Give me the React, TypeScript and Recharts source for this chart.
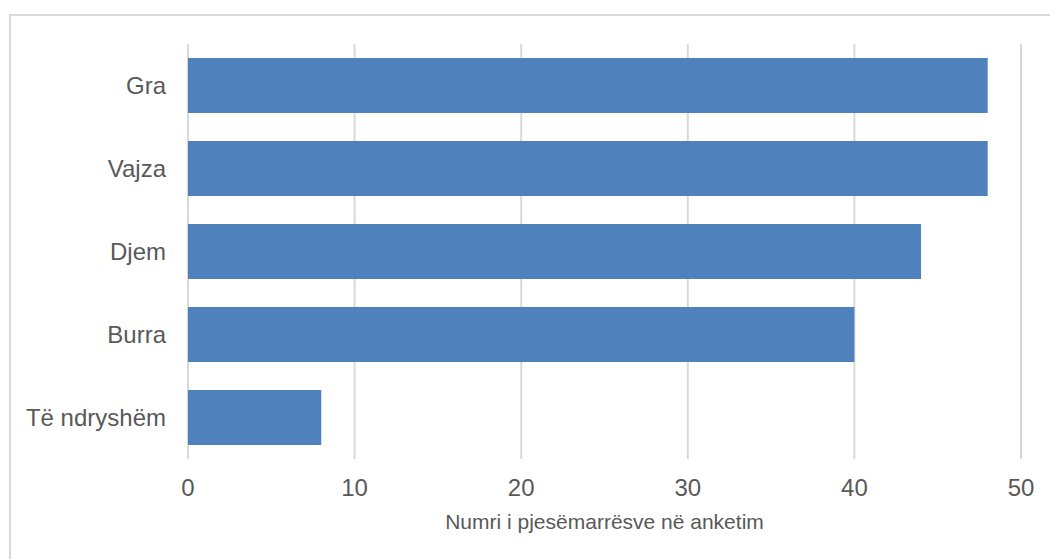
import React from 'react';
import { BarChart, Bar, XAxis, YAxis, CartesianGrid } from 'recharts';

// Categories and counts, top to bottom
const categories = ['Gra', 'Vajza', 'Djem', 'Burra', 'Të ndryshëm'];
const counts = [48, 48, 44, 40, 8];
const xTicks = [0, 10, 20, 30, 40, 50];

const data = categories.map((name, i) => ({ name, value: counts[i] }));

const textColor = '#595959';
const font = '"Liberation Sans", Arial, sans-serif';

export default function App() {
    return (
        <div style={{ position: 'absolute', left: 0, top: 0, width: 1050, height: 559, overflow: 'hidden', background: '#fff', fontFamily: font }}>
            <div style={{ position: 'absolute', left: 9, top: 14, width: 1100, height: 600, border: '2px solid #d9d9d9', boxSizing: 'border-box' }} />
            <div style={{ position: 'absolute', left: 0, top: 0 }}>
                <BarChart
                    width={1050}
                    height={559}
                    data={data}
                    layout="vertical"
                    margin={{ top: 44, right: 29, bottom: 0, left: 0 }}
                    barCategoryGap="17%"
                >
                    <CartesianGrid horizontal={false} stroke="#d9d9d9" strokeWidth={2} />
                    <XAxis
                        type="number"
                        domain={[0, 50]}
                        ticks={xTicks}
                        axisLine={false}
                        tickLine={false}
                        tick={{ fill: textColor, fontSize: 24, fontFamily: font }}
                        tickMargin={14}
                        height={100}
                        label={{ value: 'Numri i pjesëmarrësve në anketim', position: 'insideBottom', offset: 30, fill: textColor, fontSize: 21, fontFamily: font }}
                    />
                    <YAxis
                        type="category"
                        dataKey="name"
                        width={188}
                        axisLine={false}
                        tickLine={false}
                        tick={{ fill: textColor, fontSize: 24, fontFamily: font }}
                        tickMargin={16}
                    />
                    <Bar dataKey="value" fill="#4f81bd" isAnimationActive={false} />
                </BarChart>
            </div>
        </div>
    );
}
